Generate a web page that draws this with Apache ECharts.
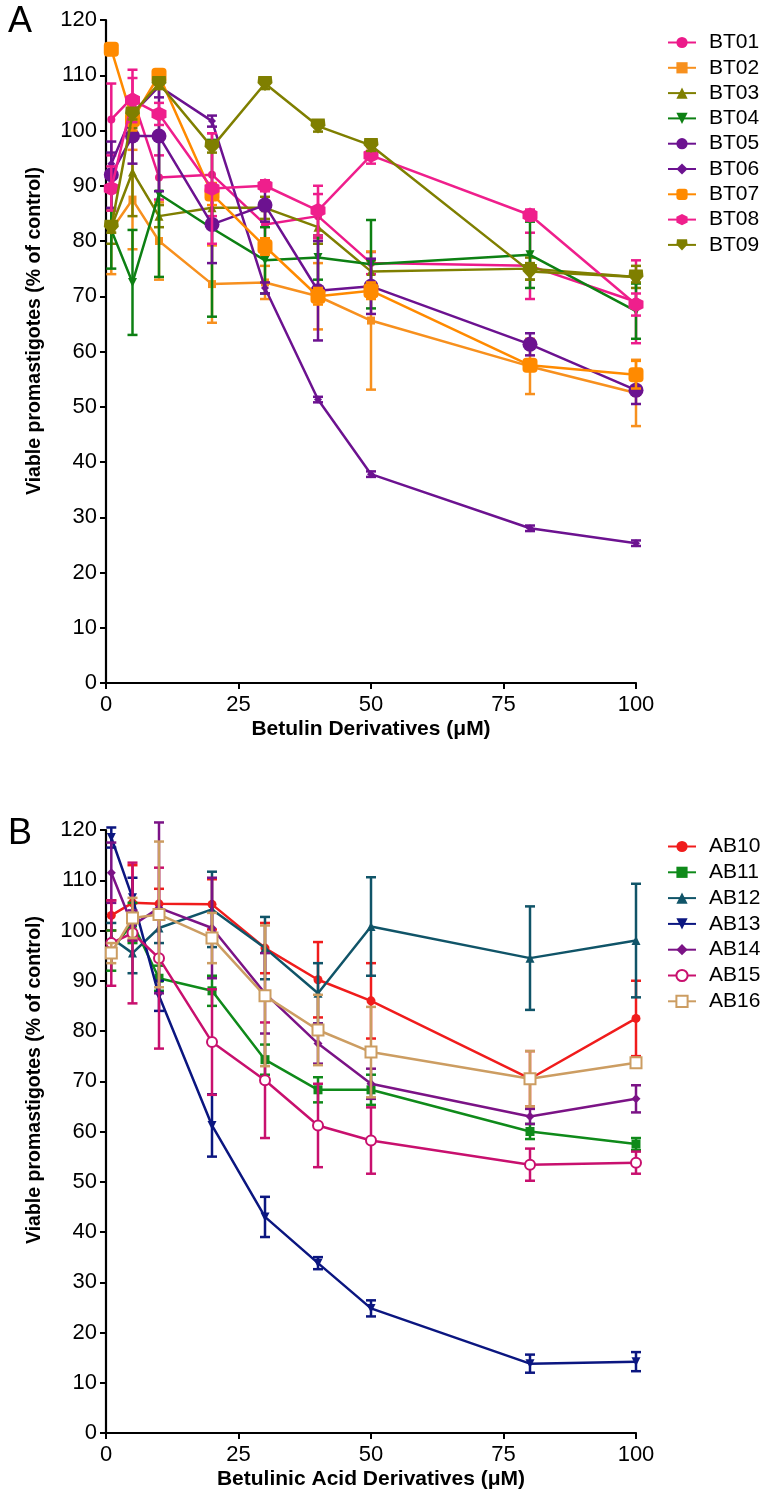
<!DOCTYPE html>
<html>
<head>
<meta charset="utf-8">
<script src="https://cdn.jsdelivr.net/npm/echarts@6/dist/echarts.min.js"></script>
<style>
html,body{margin:0;padding:0;background:#fff;}
#chart{width:767px;height:1501px;}
</style>
</head>
<body>
<div id="chart"></div>
<script>
// ---------- data ----------
const concentrations = [1, 5, 10, 20, 30, 40, 50, 80, 100];
const yTicks = [0, 10, 20, 30, 40, 50, 60, 70, 80, 90, 100, 110, 120];
const xTicks = [0, 25, 50, 75, 100];

// Panel A (Betulin derivatives)
const BT01 = [102, 106, 91.5, 92, 83, 84.5, 76, 75.5, 69];
const BT01_err = [6.5, 5, 4, 7.5, 4, 4, 2, 6, 7.5];
const BT02 = [82, 87.5, 80, 72.2, 72.5, 70, 65.6, 57.3, 52.5];
const BT02_err = [8, 9, 7, 7, 3, 6, 12.5, 5, 6];
const BT03 = [82.5, 92.5, 84.5, 86, 86, 82.5, 74.5, 75, 73.5];
const BT03_err = [3, 8, 2, 3, 2, 3, 2, 2, 2];
const BT04 = [82, 72.5, 88.5, 82.3, 76.5, 77, 75.8, 77.5, 67.3];
const BT04_err = [7, 9.5, 15, 16, 6, 4, 8, 6, 5];
const BT05 = [92, 99, 99, 83, 86.5, 71, 71.8, 61.3, 53];
const BT05_err = [6, 5, 10, 7, 3, 9, 5, 2, 2.5];
const BT06 = [94, 103, 108, 101.7, 71.5, 51.3, 37.8, 28, 25.3];
const BT06_err = [2, 2, 2, 1, 1, 0.5, 0.5, 0.5, 0.5];
const BT07 = [114.7, 102, 110, 88.5, 79, 70, 71, 57.5, 55.8];
const BT07_err = [1, 2, 1, 2, 1.5, 1.5, 1.5, 1, 2.5];
const BT08 = [89.5, 105.5, 103, 89.5, 90, 85.5, 95.5, 84.7, 68.5];
const BT08_err = [4, 4, 2, 10, 1, 4.5, 1.5, 1, 2];
const BT09 = [82.5, 103, 108.5, 97, 108.5, 100.8, 97.3, 74.5, 73.5];
const BT09_err = [1, 1, 1, 1, 1, 1, 1, 1.5, 1];

// Panel B (Betulinic acid derivatives)
const AB10 = [103, 105.5, 105.3, 105.2, 96.5, 90.2, 86, 70.5, 82.5];
const AB10_err = [3, 7.5, 3, 5, 5, 7.5, 7.5, 5.5, 7.5];
const AB11 = [96, 101.5, 90.5, 88, 74.3, 68.3, 68.3, 60, 57.5];
const AB11_err = [4, 4, 2.5, 3, 3, 2.5, 3, 1.5, 1.2];
const AB12 = [98.5, 95.5, 100.5, 104.2, 96.5, 87.5, 100.8, 94.5, 98];
const AB12_err = [3, 4, 3, 7.5, 6.2, 6, 9.8, 10.3, 11.3];
const AB13 = [118.5, 106.5, 87, 61.2, 43, 33.8, 24.8, 13.8, 14.2];
const AB13_err = [2, 4, 3, 6.2, 4, 1.2, 1.6, 1.8, 1.9];
const AB14 = [111.5, 101, 104.5, 100.5, 87.5, 77.5, 69.5, 63, 66.5];
const AB14_err = [6, 3, 17, 10, 8, 4, 3, 1.5, 2.7];
const AB15 = [97.5, 99.5, 94.5, 77.8, 70.2, 61.2, 58.2, 53.4, 53.8];
const AB15_err = [8.5, 14, 18, 10.5, 11.5, 8.3, 6.6, 3.2, 2.2];
const AB16 = [95.5, 102.5, 103.2, 98.5, 87, 80.2, 75.8, 70.5, 73.7];
const AB16_err = [2, 4, 14.5, 5, 14, 7, 9, 5.5, 1];

const titleA = 'Betulin Derivatives (\u03bcM)';
const titleB = 'Betulinic Acid Derivatives (\u03bcM)';
const yTitle = 'Viable promastigotes (% of control)';

// ---------- styling ----------
const FONT = '"Liberation Sans", Arial, Helvetica, sans-serif';
const INV_TRI = 'path://M0,0 L10,0 L5,9 Z';
const HEX = 'path://M5,0 L9.33,2.5 L9.33,7.5 L5,10 L0.67,7.5 L0.67,2.5 Z';
const PENTA = 'path://M0.5,1.5 L9.5,1.5 L10,5.5 L5,10 L0,5.5 Z';

const seriesA = [
  {name:'BT01', y:BT01, e:BT01_err, color:'#ec1a8a', symbol:'circle', size:8},
  {name:'BT02', y:BT02, e:BT02_err, color:'#f7901e', symbol:'rect', size:8},
  {name:'BT03', y:BT03, e:BT03_err, color:'#7f7f00', symbol:'triangle', size:9},
  {name:'BT04', y:BT04, e:BT04_err, color:'#0d8013', symbol:INV_TRI, size:9},
  {name:'BT05', y:BT05, e:BT05_err, color:'#6c1290', symbol:'circle', size:15},
  {name:'BT06', y:BT06, e:BT06_err, color:'#6c1290', symbol:'diamond', size:8},
  {name:'BT07', y:BT07, e:BT07_err, color:'#ff8a00', symbol:'roundRect', size:15},
  {name:'BT08', y:BT08, e:BT08_err, color:'#ef1f8c', symbol:HEX, size:15},
  {name:'BT09', y:BT09, e:BT09_err, color:'#7f7f00', symbol:PENTA, size:15}
];
const seriesB = [
  {name:'AB10', y:AB10, e:AB10_err, color:'#f01c1c', symbol:'circle', size:9},
  {name:'AB11', y:AB11, e:AB11_err, color:'#0f8a1a', symbol:'rect', size:9},
  {name:'AB12', y:AB12, e:AB12_err, color:'#105468', symbol:'triangle', size:9},
  {name:'AB13', y:AB13, e:AB13_err, color:'#0b1680', symbol:INV_TRI, size:9},
  {name:'AB14', y:AB14, e:AB14_err, color:'#7b1386', symbol:'diamond', size:9},
  {name:'AB15', y:AB15, e:AB15_err, color:'#c8106e', symbol:'emptyCircle', size:10},
  {name:'AB16', y:AB16, e:AB16_err, color:'#cc9d62', symbol:'emptyRect', size:11}
];

function errSeries(idx, s, z) {
  return {
    type:'custom', xAxisIndex:idx, yAxisIndex:idx, z:z, silent:true,
    data: concentrations.map((x,i)=>[x, s.y[i]-s.e[i], s.y[i]+s.e[i]]),
    encode:{x:0, y:[1,2]},
    renderItem:function(params, api){
      const lo = api.coord([api.value(0), api.value(1)]);
      const hi = api.coord([api.value(0), api.value(2)]);
      const w = 5;
      const st = {stroke:s.color, lineWidth:2.5};
      return {type:'group', children:[
        {type:'line', shape:{x1:lo[0],y1:lo[1],x2:hi[0],y2:hi[1]}, style:st},
        {type:'line', shape:{x1:lo[0]-w,y1:lo[1],x2:lo[0]+w,y2:lo[1]}, style:st},
        {type:'line', shape:{x1:hi[0]-w,y1:hi[1],x2:hi[0]+w,y2:hi[1]}, style:st}
      ]};
    }
  };
}
function lineSeries(idx, s, z) {
  const empty = s.symbol.indexOf('empty') === 0;
  return {
    type:'line', name:s.name, xAxisIndex:idx, yAxisIndex:idx, z:z,
    data: concentrations.map((x,i)=>[x, s.y[i]]),
    symbol:s.symbol, symbolSize:s.size, showSymbol:true,
    lineStyle:{color:s.color, width:2.5},
    itemStyle:{color: s.color, borderColor:s.color, borderWidth: empty?1.8:0},
    animation:false
  };
}

const series = [];
seriesA.forEach((s,i)=>{ series.push(errSeries(0, s, 2+i)); series.push(lineSeries(0, s, 2+i)); });
seriesB.forEach((s,i)=>{ series.push(errSeries(1, s, 2+i)); series.push(lineSeries(1, s, 2+i)); });

function xAxis(gi, name) {
  return {
    type:'value', gridIndex:gi, min:0, max:100, interval:25,
    axisLine:{show:true, onZero:false, lineStyle:{color:'#000', width:2.2}},
    axisTick:{show:true, length:6, lineStyle:{color:'#000', width:2}},
    axisLabel:{color:'#000', fontSize:22, fontFamily:FONT, margin:11,
      formatter:v=> xTicks.indexOf(v)>=0 ? String(v) : ''},
    splitLine:{show:false},
    name:name, nameLocation:'middle', nameGap:36,
    nameTextStyle:{color:'#000', fontSize:21, fontWeight:'bold', fontFamily:FONT}
  };
}
function yAxis(gi) {
  return {
    type:'value', gridIndex:gi, min:0, max:120, interval:10,
    axisLine:{show:true, onZero:false, lineStyle:{color:'#000', width:2.2}},
    axisTick:{show:true, length:6, lineStyle:{color:'#000', width:2}},
    axisLabel:{color:'#000', fontSize:22, fontFamily:FONT, margin:9,
      formatter:v=> yTicks.indexOf(v)>=0 ? String(v) : ''},
    splitLine:{show:false}
  };
}

const legendCommon = {
  orient:'vertical', itemWidth:28, itemHeight:14,
  textStyle:{color:'#000', fontSize:21, lineHeight:21, fontFamily:FONT, padding:[0,0,0,8]},
  selectedMode:false
};

function yTitleText(cy) {
  return {type:'text', x:35, y:cy, rotation:Math.PI/2,
    style:{text:yTitle, fontSize:19.5, fontWeight:'bold', fontFamily:FONT, fill:'#000',
      align:'center', verticalAlign:'middle'}};
}

const option = {
  backgroundColor:'#fff',
  animation:false,
  grid:[
    {left:106, top:20, width:530, height:663},
    {left:106, top:830, width:530, height:603}
  ],
  xAxis:[xAxis(0, titleA), xAxis(1, titleB)],
  yAxis:[yAxis(0), yAxis(1)],
  legend:[
    Object.assign({left:662, top:27, itemGap:4.3, data:seriesA.map(s=>s.name)}, legendCommon),
    Object.assign({left:662, top:831, itemGap:4.8, data:seriesB.map(s=>s.name)}, legendCommon)
  ],
  graphic:[
    {type:'text', left:8, top:4, style:{text:'A', fontSize:36, fontFamily:FONT, fill:'#000'}},
    {type:'text', left:8, top:816, style:{text:'B', fontSize:36, fontFamily:FONT, fill:'#000'}},
    yTitleText(331),
    yTitleText(1080)
  ],
  series:series
};

const chart = echarts.init(document.getElementById('chart'), null, {renderer:'canvas'});
chart.setOption(option);
</script>
</body>
</html>
